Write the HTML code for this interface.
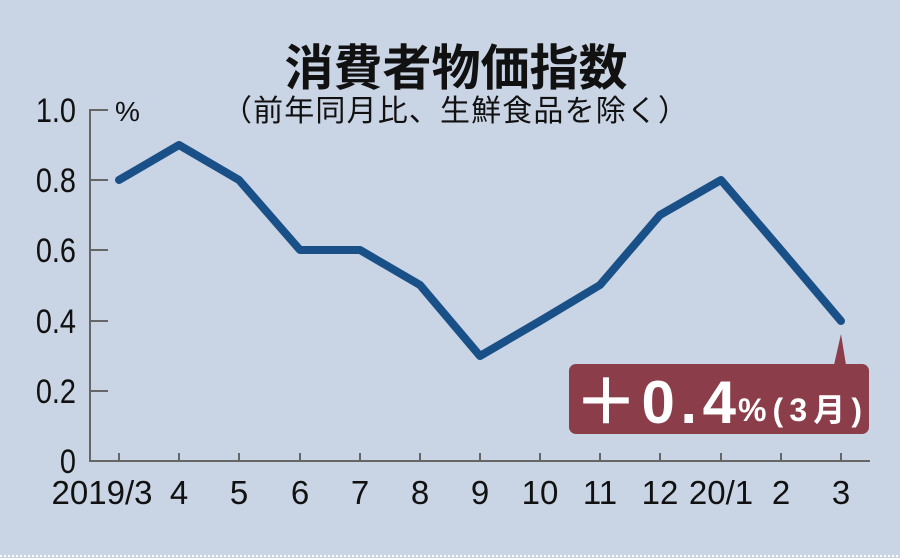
<!DOCTYPE html>
<html><head><meta charset="utf-8"><style>
html,body{margin:0;padding:0;}
body{width:900px;height:558px;background:#c9d4e4;overflow:hidden;position:relative;}
svg{position:absolute;left:0;top:0;}
</style></head><body>
<svg width="900" height="558" xmlns="http://www.w3.org/2000/svg">
<rect width="900" height="558" fill="#c9d4e4"/>
<line x1="0" y1="556" x2="900" y2="556" stroke="#fff" stroke-width="2" stroke-dasharray="2 2"/>
<text x="456" y="85" text-anchor="middle" font-family="'Noto Sans CJK JP',sans-serif" font-weight="bold" font-size="49" fill="#111">消費者物価指数</text>
<text x="455" y="121" text-anchor="middle" font-family="'Liberation Sans','Noto Sans CJK JP',sans-serif" font-size="30" fill="#111" textLength="466">（前年同月比、生鮮食品を除く）</text>
<g stroke="#666" stroke-width="2" fill="none">
<polyline points="108,110 90,110 90,461 870,461"/>
<line x1="90" y1="180" x2="108" y2="180"/>
<line x1="90" y1="250" x2="108" y2="250"/>
<line x1="90" y1="321" x2="108" y2="321"/>
<line x1="90" y1="391" x2="108" y2="391"/>
<line x1="119" y1="461" x2="119" y2="453"/><line x1="179" y1="461" x2="179" y2="453"/><line x1="239" y1="461" x2="239" y2="453"/><line x1="300" y1="461" x2="300" y2="453"/><line x1="360" y1="461" x2="360" y2="453"/><line x1="420" y1="461" x2="420" y2="453"/><line x1="480" y1="461" x2="480" y2="453"/><line x1="540" y1="461" x2="540" y2="453"/><line x1="600" y1="461" x2="600" y2="453"/><line x1="660" y1="461" x2="660" y2="453"/><line x1="721" y1="461" x2="721" y2="453"/><line x1="781" y1="461" x2="781" y2="453"/><line x1="841" y1="461" x2="841" y2="453"/>
</g>
<g font-family="'Liberation Sans',sans-serif" font-size="34" fill="#111" text-anchor="end">
<text x="76" y="122" transform="translate(76 0) scale(0.85 1) translate(-76 0)">1.0</text>
<text x="76" y="192" transform="translate(76 0) scale(0.85 1) translate(-76 0)">0.8</text>
<text x="76" y="262" transform="translate(76 0) scale(0.85 1) translate(-76 0)">0.6</text>
<text x="76" y="333" transform="translate(76 0) scale(0.85 1) translate(-76 0)">0.4</text>
<text x="76" y="403" transform="translate(76 0) scale(0.85 1) translate(-76 0)">0.2</text>
<text x="76" y="473" transform="translate(76 0) scale(0.85 1) translate(-76 0)">0</text>
</g>
<text x="115" y="121" font-family="'Liberation Sans',sans-serif" font-size="28" fill="#111">%</text>
<g font-family="'Liberation Sans Narrow','Liberation Sans',sans-serif" font-size="33" fill="#111" text-anchor="middle">
<text x="102" y="504">2019/3</text><text x="179" y="504">4</text><text x="239" y="504">5</text><text x="300" y="504">6</text><text x="360" y="504">7</text><text x="420" y="504">8</text><text x="480" y="504">9</text><text x="540" y="504">10</text><text x="600" y="504">11</text><text x="660" y="504">12</text><text x="721" y="504">20/1</text><text x="781" y="504">2</text><text x="841" y="504">3</text>
</g>
<polyline points="119,180 179,145 239,180 300,250 360,250 420,285 480,356 540,321 600,285 660,215 721,180 781,250 841,321" fill="none" stroke="#1a5088" stroke-width="8" stroke-linejoin="round" stroke-linecap="round"/>
<path d="M834,365 L841,334 L846,365 Z" fill="#8b3e4a"/>
<rect x="569" y="364" width="300" height="70" rx="7" fill="#8b3e4a"/>
<text x="576" y="423" font-family="'Liberation Sans',sans-serif" font-weight="bold" font-size="60" fill="#fff" textLength="160">＋0.4</text>
<text x="738" y="421" font-family="'Liberation Sans','Noto Sans CJK JP',sans-serif" font-weight="bold" font-size="32" fill="#fff" textLength="124">%(3月)</text>
</svg>
</body></html>
